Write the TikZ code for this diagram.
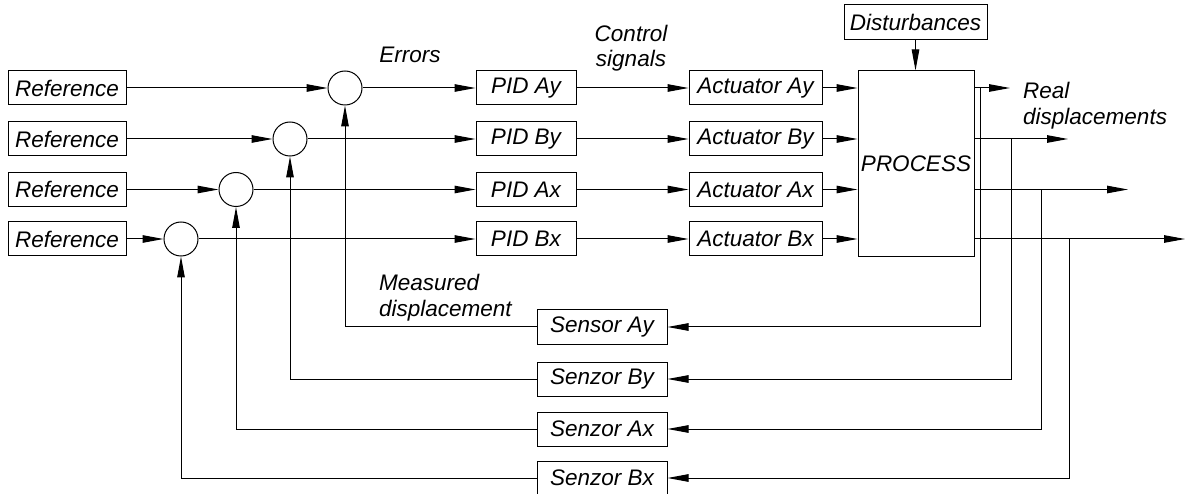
\documentclass[tikz,border=0pt]{standalone}
\usepackage{fontspec}
\setmainfont{Liberation Sans}
\usetikzlibrary{positioning}
\usetikzlibrary{arrows.meta}

\begin{document}
\begin{tikzpicture}[x=1pt,y=-1pt,
    font=\fontsize{22.5}{25.5}\selectfont\itshape,
    blk/.style={draw,line width=1pt,inner sep=0pt,minimum height=34pt},
    sumpt/.style={draw,circle,line width=1pt,inner sep=0pt,minimum size=34pt},
    sig/.style={-{Triangle[length=21pt,width=7.5pt]},line width=1pt},
    lbl/.style={align=left,inner sep=0pt}]
  \useasboundingbox (0,0) rectangle (1186,494);

  \node [blk,minimum width=118pt] (ref1) at (67,88)    {Reference};
  \node [blk,minimum width=118pt] (ref2) at (67,139)   {Reference};
  \node [blk,minimum width=118pt] (ref3) at (67,189.5) {Reference};
  \node [blk,minimum width=118pt] (ref4) at (67,239)   {Reference};

  \node [sumpt] (e1) at (345,88)    {};
  \node [sumpt] (e2) at (290,139)   {};
  \node [sumpt] (e3) at (236,189.5) {};
  \node [sumpt] (e4) at (181,239)   {};

  \node [blk,minimum width=100pt] (pid1) at (526,88)    {PID Ay};
  \node [blk,minimum width=100pt] (pid2) at (526,139)   {PID By};
  \node [blk,minimum width=100pt] (pid3) at (526,189.5) {PID Ax};
  \node [blk,minimum width=100pt] (pid4) at (526,239)   {PID Bx};

  \node [blk,minimum width=133pt] (act1) at (755.5,88)    {Actuator Ay};
  \node [blk,minimum width=133pt] (act2) at (755.5,139)   {Actuator By};
  \node [blk,minimum width=133pt] (act3) at (755.5,189.5) {Actuator Ax};
  \node [blk,minimum width=133pt] (act4) at (755.5,239)   {Actuator Bx};

  \node [blk,minimum width=116pt,minimum height=186pt] (proc) at (916,164)    {PROCESS};
  \node [blk,minimum width=143pt,minimum height=35pt]  (dist) at (915.5,22.5) {Disturbances};

  \node [blk,minimum width=130pt] (sen1) at (602,327) {Sensor Ay};
  \node [blk,minimum width=130pt] (sen2) at (602,379) {Senzor By};
  \node [blk,minimum width=130pt] (sen3) at (602,429) {Senzor Ax};
  \node [blk,minimum width=130pt] (sen4) at (602,478) {Senzor Bx};

  % labels
  \node [lbl] (errlbl) at (410,55) {Errors};
  \node [lbl,align=center] (ctrllbl) at (631,48) {Control\\signals};
  \node [lbl,anchor=west] (reallbl) at (1023,105.5) {Real\\displacements};
  \node [lbl,anchor=west] (measlbl) at (379,297.5) {Measured\\displacement};

  % free ends and branch points
  \coordinate (out1) at (1010,88);
  \coordinate (out2) at (1068,139);
  \coordinate (out3) at (1128,189.5);
  \coordinate (out4) at (1185,239);
  \coordinate (tap1) at (980,88);
  \coordinate (tap2) at (1011,139);
  \coordinate (tap3) at (1041,189.5);
  \coordinate (tap4) at (1069,239);

  \draw [sig] (ref1) -- (e1);
  \draw [sig] (ref2) -- (e2);
  \draw [sig] (ref3) -- (e3);
  \draw [sig] (ref4) -- (e4);

  \draw [sig] (e1) -- (pid1);
  \draw [sig] (e2) -- (pid2);
  \draw [sig] (e3) -- (pid3);
  \draw [sig] (e4) -- (pid4);

  \draw [sig] (pid1) -- (act1);
  \draw [sig] (pid2) -- (act2);
  \draw [sig] (pid3) -- (act3);
  \draw [sig] (pid4) -- (act4);

  \draw [sig] (act1) -- (act1 -| proc.west);
  \draw [sig] (act2) -- (act2 -| proc.west);
  \draw [sig] (act3) -- (act3 -| proc.west);
  \draw [sig] (act4) -- (act4 -| proc.west);

  \draw [sig] (dist.south) -- (dist.south |- proc.north);

  \draw [sig] (proc.east |- out1) -- (out1);
  \draw [sig] (proc.east |- out2) -- (out2);
  \draw [sig] (proc.east |- out3) -- (out3);
  \draw [sig] (proc.east |- out4) -- (out4);

  \draw [sig] (tap1) |- (sen1);
  \draw [sig] (tap2) |- (sen2);
  \draw [sig] (tap3) |- (sen3);
  \draw [sig] (tap4) |- (sen4);

  \draw [sig] (sen1) -| (e1);
  \draw [sig] (sen2) -| (e2);
  \draw [sig] (sen3) -| (e3);
  \draw [sig] (sen4) -| (e4);
\end{tikzpicture}
\end{document}
